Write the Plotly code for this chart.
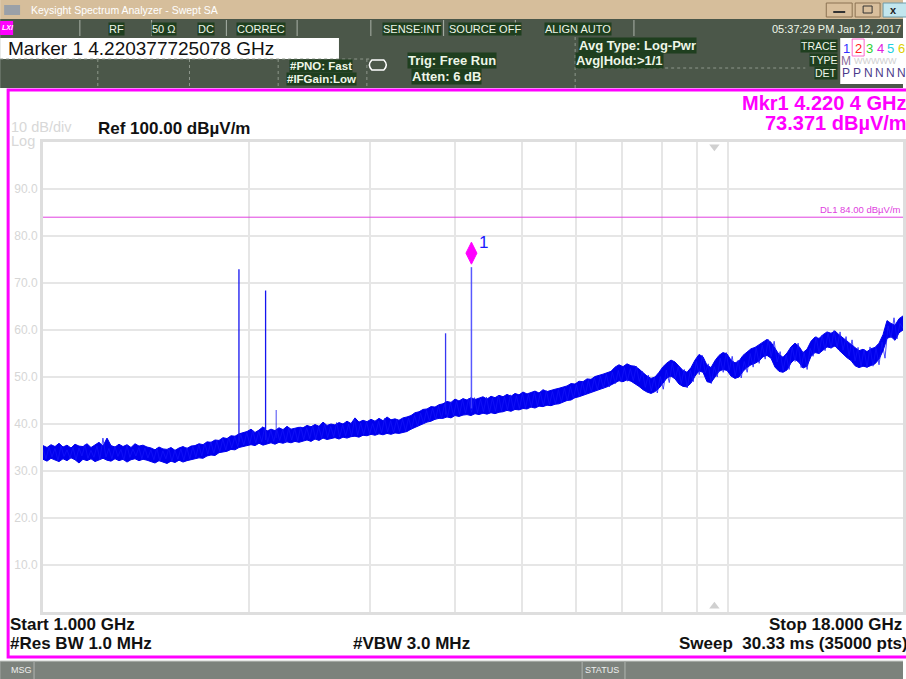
import numpy as np
import plotly.graph_objects as go

# ---------------- data ----------------
start_ghz = 1.0
stop_ghz = 18.0

# swept trace shown as a band: upper and lower edge of the noise (dBuV/m),
# evenly spaced on the log-frequency display from left to right
trace_upper = [
    35.4, 35.0, 35.6, 35.2, 35.9, 35.1, 35.5, 34.9, 35.7, 35.3,
    35.2, 35.8, 35.0, 35.5, 36.1, 35.3, 37.0, 35.4, 35.1, 35.7,
    35.2, 35.6, 35.0, 35.8, 35.3, 35.5, 35.1,
    34.9, 34.5, 35.1, 34.7, 34.6, 35.0, 34.4, 34.9, 35.2, 34.8, 35.3,
    35.4, 35.8, 35.6, 36.2, 36.1, 36.6, 36.5, 37.1, 36.9, 37.5, 37.4, 37.9, 38.1,
    38.4, 38.9, 38.2, 38.7, 39.4, 38.5, 38.9, 38.6, 39.2, 38.8, 39.5, 38.9, 39.1, 39.3,
    39.2, 39.7, 39.4, 39.9, 39.5, 40.4, 39.7, 40.0, 39.8, 40.3, 40.0, 40.6, 40.1,
    41.3, 40.4, 40.8, 40.5, 41.0, 40.6, 41.2, 40.7, 41.5, 40.9, 41.1, 40.8, 41.3,
    41.5, 41.8, 42.4, 42.6, 43.1, 43.2, 43.7, 43.6, 44.1,
    44.3, 44.8, 44.6, 45.3, 44.9, 45.4, 45.1, 45.6, 45.2, 45.5, 45.8, 45.3, 45.9, 45.6, 46.1,
    45.8, 46.3, 45.9, 46.5, 46.2, 46.8, 46.4, 46.7, 47.0, 46.6, 47.3, 46.9, 47.2, 47.4,
    47.6, 47.9, 48.1, 48.6, 48.5, 49.1, 49.0, 49.6, 49.5, 50.1, 50.3, 50.6, 50.9, 51.2,
    52.1, 52.6, 52.2, 52.8, 52.4, 52.3,
    51.7, 50.9, 50.2, 49.7, 50.0, 51.0,
    52.2, 53.0, 53.6, 53.2,
    52.4, 51.4, 51.0, 52.0,
    53.6, 54.8, 54.3,
    52.5, 52.0,
    53.5, 54.6, 55.2, 54.9,
    53.6, 53.0, 53.4,
    54.6, 55.4, 56.0, 56.3,
    56.9, 57.5, 58.0, 57.4,
    56.0, 54.8, 54.2, 55.1,
    56.4, 57.2, 56.5,
    55.2, 55.9,
    57.6, 58.5, 58.2,
    59.0, 59.6, 59.3, 59.8, 59.0,
    58.3, 57.6, 57.0,
    56.2, 55.6, 55.9, 55.4, 56.0, 56.3,
    57.2, 59.0, 62.0, 61.4, 61.0, 62.4, 63.0,
]
trace_lower = [
    32.5, 32.1, 32.7, 32.3, 32.0, 32.6, 32.2, 32.8, 32.4, 31.7,
    32.5, 32.2, 32.6, 32.0, 32.4, 32.7, 32.3, 32.1, 32.6, 32.2,
    32.5, 31.9, 32.4, 32.6, 32.2, 32.5, 32.3,
    32.0, 31.7, 32.2, 31.9, 31.6, 32.1, 31.8, 32.3, 31.9, 32.2, 32.4,
    32.5, 32.8, 32.7, 33.2, 33.4, 33.3, 33.9, 34.0, 34.2, 34.6, 34.5, 35.0, 35.2,
    35.3, 35.6, 35.4, 35.9, 35.5, 35.8, 36.0, 35.7, 36.1, 35.9, 36.2, 36.0, 36.3, 36.1,
    36.4, 36.6, 36.3, 36.8, 36.5, 37.0, 36.7, 36.9, 37.1, 36.8, 37.2, 37.0, 37.3,
    37.4, 37.2, 37.6, 37.5, 37.8, 37.6, 37.9, 37.7, 38.0, 37.8, 38.1, 38.0, 38.2,
    38.4, 38.9, 39.3, 39.6, 40.1, 40.4, 40.6, 41.0, 41.2,
    41.2, 41.5, 41.3, 41.8, 41.6, 41.9, 42.0, 41.8, 42.2, 42.0, 42.3, 42.1, 42.4, 42.2, 42.5,
    42.6, 42.9, 42.7, 43.1, 43.0, 43.3, 43.2, 43.6, 43.4, 43.8, 43.7, 44.0, 43.9, 44.2,
    44.3, 44.6, 45.0, 45.1, 45.6, 45.8, 46.1, 46.4, 46.7, 47.0, 47.2, 47.6, 47.9, 48.3,
    48.8, 49.2, 49.0, 49.4, 49.1, 48.6,
    48.0, 47.3, 46.8, 46.5, 46.9, 47.6,
    48.6, 49.8, 50.2, 49.6,
    48.5, 48.0, 47.9, 48.7,
    50.2, 51.3, 51.0,
    49.0, 48.8,
    50.1, 51.2, 51.6, 51.4,
    50.2, 49.7, 50.0,
    51.2, 52.0, 52.6, 52.9,
    53.4, 54.3, 54.6, 54.0,
    52.1, 51.2, 51.0, 51.5,
    53.0, 53.8, 53.1,
    51.9, 52.3,
    54.4, 55.2, 55.0,
    55.8, 56.4, 56.2, 56.6, 55.7,
    54.8, 54.1, 53.5,
    52.4, 52.0, 52.3, 52.1, 52.5, 52.8,
    53.8, 55.6, 58.2, 58.6, 57.8, 59.4, 60.0,
]
# finer sample-to-sample swings of the same trace (gives the ragged edge)
trace_detail = [
    34.6, 32.6, 35.1, 33.0, 34.8, 32.2, 35.4, 33.1, 34.5, 32.8,
    35.0, 32.4, 34.9, 33.2, 35.6, 32.7, 34.4, 32.9, 35.3, 32.5,
    37.0, 33.0, 34.8, 32.6, 35.2, 33.1, 34.6, 32.3, 35.5, 32.9,
    34.7, 33.2, 35.0, 32.6, 34.9, 32.8,
    34.5, 32.4, 34.9, 32.1, 34.3, 32.6, 34.8, 32.0, 34.4, 32.5, 34.7, 32.3, 35.0, 32.6, 35.2,
    32.9, 35.6, 33.2, 35.9, 33.6, 36.2, 33.8, 36.4, 34.1, 36.8, 34.5, 37.1, 34.9, 37.3, 35.2, 37.8, 35.5,
    38.2, 35.8, 38.6, 36.0, 38.4, 36.2, 39.3, 36.1, 38.7, 36.3, 38.9, 36.5, 38.8, 36.2, 39.1, 36.6, 39.0, 36.4, 39.4,
    36.7, 39.2, 36.9, 39.6, 36.8, 39.4, 37.0, 39.9, 37.1, 39.5, 37.3, 40.3, 37.2, 39.8, 37.5, 40.0, 37.4,
    41.1, 37.6, 40.2, 37.8, 40.4, 37.9, 40.1, 38.0, 40.6, 38.1, 41.2, 38.3, 40.7, 38.2, 40.9, 38.4, 41.0, 38.5,
    41.3, 38.9, 41.8, 39.5, 42.3, 40.1, 42.9, 40.6, 43.4, 41.0, 43.8, 41.2,
    44.2, 41.5, 44.5, 41.8, 44.9, 42.0, 45.2, 42.3, 45.4, 42.5, 45.6, 42.4, 45.3, 42.6, 45.7, 42.5, 45.5, 42.7, 46.1,
    42.8, 45.8, 43.0, 46.2, 43.1, 46.0, 43.3, 46.5, 43.4, 46.3, 43.6, 46.8, 43.8, 46.6, 43.9, 47.1, 44.1, 46.9, 44.3, 47.3,
    44.6, 47.6, 44.9, 48.0, 45.4, 48.4, 45.8, 48.9, 46.3, 49.3, 46.8, 49.8, 47.3, 50.2, 47.6, 50.6, 47.9, 51.0,
    48.6, 51.4, 48.9, 52.0, 49.1, 51.8, 49.2, 52.3,
    49.0, 51.2, 47.8, 50.4, 47.0, 49.9, 46.6,
    50.1, 47.4, 51.5, 48.8, 53.0, 49.6,
    52.2, 48.6, 51.6, 47.7, 51.4,
    49.0, 53.3, 50.5, 54.6,
    50.9, 52.8, 48.6, 52.2,
    50.0, 54.0, 51.0, 55.2,
    51.4, 54.4, 50.2, 53.6, 49.8,
    53.3, 51.0, 55.0, 52.1, 56.2,
    52.9, 56.8, 53.8, 58.0, 54.3,
    57.6, 53.2, 55.4, 51.3, 54.7,
    51.6, 56.4, 53.3, 57.2,
    52.0, 55.2,
    51.6, 56.1, 54.4, 58.6, 55.0,
    58.9, 55.6, 59.4, 56.1, 59.9, 56.3, 59.6,
    55.7, 58.6, 54.5, 57.9, 53.4,
    56.3, 52.2, 55.9, 52.0, 56.4, 52.3, 56.1, 52.6,
    57.4, 54.0, 60.9, 58.3, 62.6, 58.1, 61.4, 60.3,
]

# narrow emissions (GHz, peak dBuV/m, floor under the line)
spike_ghz = [1.932, 2.113, 2.190, 3.869]
spike_top = [72.9, 68.4, 43.0, 59.3]
spike_floor = [36.2, 36.6, 37.0, 42.0]
spike_alpha = [1.0, 1.0, 0.6, 0.85]

marker_ghz = 4.220377725078
marker_dbuv = 73.371
marker_floor = 43.3

dl1_dbuv = 84.0
grid_ghz = [2, 3, 4, 5, 6, 7, 8, 9, 10]
level_ticks = [10, 20, 30, 40, 50, 60, 70, 80, 90]
level_labels = ["10.0", "20.0", "30.0", "40.0", "50.0", "60.0", "70.0", "80.0", "90.0"]
ref_tri_ghz = 9.55

# ---------------- figure ----------------
W, H = 906, 679
L, R, T, B = 43, 906, 142, 612
FONT = "Arial, Liberation Sans, sans-serif"
BLUE = "#0000ee"


def px(x):
    return (x - L) / (R - L)


def py(y):
    return (B - y) / (B - T)


band_ghz = np.logspace(np.log10(start_ghz), np.log10(stop_ghz), len(trace_upper))
detail_ghz = np.logspace(np.log10(start_ghz), np.log10(stop_ghz), len(trace_detail))

fig = go.Figure()
fig.add_trace(go.Scatter(x=band_ghz, y=trace_lower, mode="lines",
                         line=dict(color=BLUE, width=1.0), hoverinfo="skip"))
fig.add_trace(go.Scatter(x=band_ghz, y=trace_upper, mode="lines", fill="tonexty", fillcolor=BLUE,
                         line=dict(color=BLUE, width=1.0), hoverinfo="skip"))
fig.add_trace(go.Scatter(x=detail_ghz, y=trace_detail, mode="lines",
                         line=dict(color="rgba(20,20,250,0.75)", width=1.0), hoverinfo="skip"))
for f, top, flo, a in zip(spike_ghz, spike_top, spike_floor, spike_alpha):
    fig.add_trace(go.Scatter(x=[f, f], y=[flo, top], mode="lines",
                             line=dict(color=f"rgba(20,20,240,{a})", width=1.3), hoverinfo="skip"))
fig.add_trace(go.Scatter(x=[marker_ghz, marker_ghz], y=[marker_floor, marker_dbuv], mode="lines",
                         line=dict(color="rgba(70,70,255,0.9)", width=1.5), hoverinfo="skip"))
fig.add_trace(go.Scatter(x=[ref_tri_ghz, ref_tri_ghz], y=[99.0, 1.2], mode="markers",
                         marker=dict(symbol=["triangle-down", "triangle-up"], size=9, color="#d0d0d0"),
                         cliponaxis=False, hoverinfo="skip"))

shapes = []
ann = []


def rect(x0, y0, x1, y1, fill, line=None, lw=0, dash=None):
    d = dict(type="rect", xref="paper", yref="paper", x0=px(x0), x1=px(x1), y0=py(y0), y1=py(y1),
             fillcolor=fill, line=dict(color=line or fill, width=lw))
    if dash:
        d["line"]["dash"] = dash
    shapes.append(d)


def hline(x0, x1, y, color, w=1, dash=None):
    d = dict(type="line", xref="paper", yref="paper", x0=px(x0), x1=px(x1), y0=py(y), y1=py(y),
             line=dict(color=color, width=w))
    if dash:
        d["line"]["dash"] = dash
    shapes.append(d)


def vline(x, y0, y1, color, w=1, dash=None):
    d = dict(type="line", xref="paper", yref="paper", x0=px(x), x1=px(x), y0=py(y0), y1=py(y1),
             line=dict(color=color, width=w))
    if dash:
        d["line"]["dash"] = dash
    shapes.append(d)


def txt(x, y, s, size=12, color="#ffffff", bold=False, anchor="left", bg=None, family=FONT):
    d = dict(xref="paper", yref="paper", x=px(x), y=py(y), text=("<b>%s</b>" % s) if bold else s,
             showarrow=False, xanchor=anchor, yanchor="middle",
             font=dict(size=size, color=color, family=family), borderpad=0)
    if bg:
        d["bgcolor"] = bg
    ann.append(d)


DARK = "#4b5749"
HL = "#1f3f1f"
FG = "#eef6e8"

# title bar
rect(0, 0, 906, 19, "#d6be9b")
rect(4, 5, 20, 15, "#9aa0a8")
txt(30, 10, "Keysight Spectrum Analyzer - Swept SA", 10.5, "#ffffff")
rect(829, 3, 855, 17, "#d9bf9c", "#8c7352", 1)
hline(836, 848, 12, "#333333", 2)
rect(858, 3, 883, 17, "#d9bf9c", "#8c7352", 1)
rect(866, 6, 875, 13, "rgba(0,0,0,0)", "#333333", 1)
rect(886, 3, 910, 17, "#c2e6ee", "#6f9aa8", 1)
txt(896, 10, "<b>x</b>", 11, "#222222", anchor="center")

# status row
rect(0, 19, 906, 37, DARK)
for xs in [80, 152, 227, 298, 372, 445, 517, 636]:
    vline(xs, 20, 36, "#aab2a8", 1)
rect(0, 21, 13, 35, "#ff00ff")
txt(0.5, 28, "<b><i>LXI</i></b>", 7, "#ffffff")
txt(117, 29, "RF", 11, FG, anchor="center", bg=HL)
txt(164, 29, "50 Ω", 11, FG, anchor="center", bg=HL)
txt(207, 29, "DC", 11, FG, anchor="center", bg=HL)
txt(262, 29, "CORREC", 11, FG, anchor="center", bg=HL)
txt(443, 29, "SENSE:INT", 11, FG, anchor="right", bg=HL)
txt(449, 29, "SOURCE OFF", 11, FG, bg=HL)
txt(580, 29, "ALIGN AUTO", 11, FG, anchor="center", bg=HL)
txt(905, 29, "05:37:29 PM Jan 12, 2017", 11, FG, anchor="right")

# settings row
rect(0, 37, 906, 88, DARK)
rect(0, 38, 340, 59, "#ffffff")
txt(7, 48.5, "Marker 1 4.220377725078 GHz", 19, "#111111")
hline(0, 372, 59, "#8d978b", 1, "dot")
for xs in [98, 190, 279, 368]:
    vline(xs, 59, 88, "#8d978b", 1, "dot")
vline(577, 37, 88, "#8d978b", 1, "dot")
hline(577, 808, 68, "#8d978b", 1, "dot")
txt(322, 66, "#PNO: Fast", 11.5, FG, True, "center", HL)
txt(322, 79, "#IFGain:Low", 11.5, FG, True, "center", HL)
shapes.append(dict(type="path", xref="paper", yref="paper",
                   path="M %f,%f L %f,%f Q %f,%f %f,%f L %f,%f Q %f,%f %f,%f Z" % (
                       px(373), py(60), px(385), py(60), px(390), py(65), px(385), py(70),
                       px(373), py(70), px(368), py(65), px(373), py(60)),
                   line=dict(color="#ffffff", width=1.5), fillcolor="rgba(0,0,0,0)"))
txt(408, 61, "Trig: Free Run", 13, FG, True, bg=HL)
txt(412, 77, "Atten: 6 dB", 13, FG, True, bg=HL)
txt(580, 46, "Avg Type: Log-Pwr", 13, FG, True, bg=HL)
txt(577, 61, "Avg|Hold:>1/1", 13, FG, True, bg=HL)
txt(841, 46, "TRACE", 10.5, FG, anchor="right", bg=HL)
txt(841, 60, "TYPE", 10.5, FG, anchor="right", bg=HL)
txt(841, 73, "DET", 10.5, FG, anchor="right", bg=HL)
rect(843, 38, 910, 84, "#ffffff")
rect(855, 39, 867, 56, "rgba(0,0,0,0)", "#ff66cc", 1)
for xs, s, c in [(849, "1", "#3030ff"), (861, "2", "#ff2020"), (872, "3", "#30d030"),
                 (883, "4", "#e020e0"), (893, "5", "#20d0e0"), (904, "6", "#e0d000")]:
    txt(xs, 48, s, 13, c, anchor="center")
txt(849, 61, "M", 12, "#8a6a9a", anchor="center")
txt(856, 61, "WWWWW", 9, "#d0d0d0")
for xs, s in [(849, "P"), (860, "P"), (871, "N"), (882, "N"), (893, "N"), (904, "N")]:
    txt(xs, 73, s, 12, "#4a3a8a", anchor="center")

# magenta display frame
shapes.append(dict(type="rect", xref="paper", yref="paper", x0=px(8), x1=px(930), y0=py(657), y1=py(90),
                   line=dict(color="#ff00ff", width=3), fillcolor="rgba(0,0,0,0)"))

# bottom message bar
rect(0, 661, 906, 679, "#7c827c")
hline(0, 906, 661, "#c8ccc8", 1)
vline(34, 662, 679, "#b0b5b0", 1)
vline(584, 662, 679, "#b0b5b0", 1)
vline(627, 662, 679, "#b0b5b0", 1)
txt(10, 670, "MSG", 9, "#eeeeee")
txt(586, 670, "STATUS", 9, "#eeeeee")

# display line DL1
shapes.append(dict(type="line", xref="paper", yref="y", x0=0, x1=1, y0=dl1_dbuv, y1=dl1_dbuv,
                   line=dict(color="#e040e0", width=1)))
txt(905, 209, "DL1 84.00 dBµV/m", 9.5, "#e040e0", anchor="right")

# marker glyph (drawn just above the peak, like the instrument)
shapes.append(dict(type="path", xref="x", yref="y", xsizemode="pixel", ysizemode="pixel",
                   xanchor=marker_ghz, yanchor=marker_dbuv,
                   path="M 0,3 L 5.5,14 L 0,25 L -5.5,14 Z",
                   fillcolor="#ff00ff", line=dict(color="#ff00ff", width=1)))
ann.append(dict(xref="x", yref="y", x=np.log10(marker_ghz), y=marker_dbuv, xshift=12, yshift=25,
                text="1", showarrow=False, font=dict(size=17, color="#1a1aff", family=FONT)))

# texts in the display
txt(10, 127, "10 dB/div", 14.5, "#d8d8d8")
txt(10, 141, "Log", 14.5, "#d8d8d8")
txt(97, 128, "Ref 100.00 dBµV/m", 17, "#111111", True)
txt(911, 103, "Mkr1 4.220 4 GHz", 20, "#ff00ff", True, "right")
txt(911, 123, "73.371 dBµV/m", 20, "#ff00ff", True, "right")
txt(9, 624, "Start 1.000 GHz", 17, "#111111", True)
txt(9, 643, "#Res BW 1.0 MHz", 17, "#111111", True)
txt(413, 643, "#VBW 3.0 MHz", 17, "#111111", True, "center")
txt(906, 624, "Stop 18.000 GHz", 17, "#111111", True, "right")
txt(912, 643, "Sweep  30.33 ms (35000 pts)", 17, "#111111", True, "right")

fig.update_layout(
    width=W, height=H,
    margin=dict(l=L, r=W - R, t=T, b=H - B, pad=0),
    paper_bgcolor="#ffffff", plot_bgcolor="#ffffff",
    showlegend=False, hovermode=False,
    font=dict(family=FONT),
    shapes=shapes, annotations=ann,
    xaxis=dict(type="log", range=[np.log10(start_ghz), np.log10(stop_ghz)],
               tickvals=grid_ghz, showticklabels=False, ticks="",
               showgrid=True, gridcolor="#e6e6e6", gridwidth=1.5, zeroline=False,
               showline=True, mirror=True, linecolor="#dedede", linewidth=3, fixedrange=True),
    yaxis=dict(range=[0, 100], tickvals=level_ticks, ticktext=level_labels,
               tickfont=dict(size=12, color="#d6d6d6", family=FONT), ticks="",
               showgrid=True, gridcolor="#e6e6e6", gridwidth=1.5, zeroline=False,
               showline=True, mirror=True, linecolor="#dedede", linewidth=3, fixedrange=True),
)

fig.write_html("out.html", config={"displayModeBar": False},
               post_script="document.body.style.margin='0';document.body.style.overflow='hidden';")
